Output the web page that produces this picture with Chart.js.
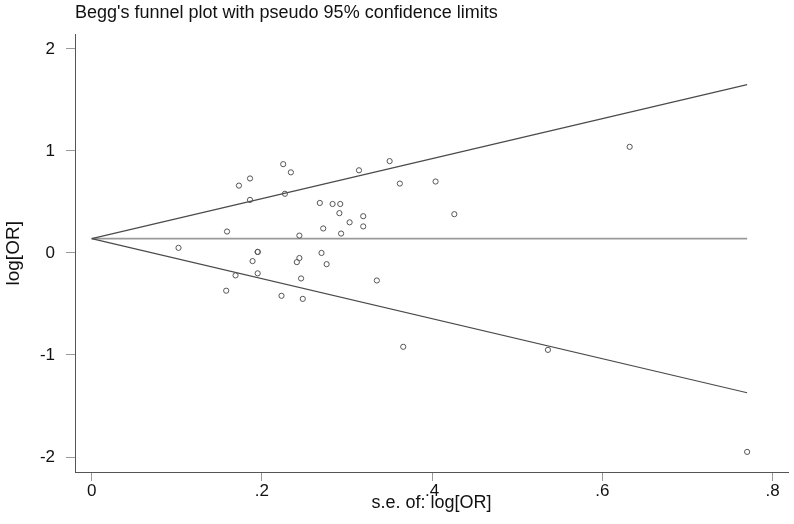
<!DOCTYPE html>
<html>
<head>
<meta charset="utf-8">
<script src="https://cdn.jsdelivr.net/npm/chart.js@4.4.1/dist/chart.umd.min.js"></script>
<style>
  html, body { margin: 0; padding: 0; background: #ffffff; }
  #wrap { width: 794px; height: 524px; position: relative; }
</style>
</head>
<body>
<div id="wrap"><canvas id="c" width="794" height="524"></canvas></div>
<script>
// Study points: standard error of log[OR] (x) and log[OR] (y)
const seValues = [
  0.102, 0.159, 0.158, 0.173, 0.169, 0.186, 0.186, 0.189, 0.195, 0.195,
  0.195, 0.225, 0.234, 0.227, 0.223, 0.244, 0.244, 0.241, 0.246, 0.248,
  0.268, 0.283, 0.292, 0.291, 0.319, 0.303, 0.319, 0.272, 0.293, 0.270,
  0.276, 0.335, 0.366, 0.314, 0.350, 0.362, 0.404, 0.426, 0.632, 0.536,
  0.770
];
const logOrValues = [
  0.05, 0.21, -0.37, 0.66, -0.22, 0.73, 0.52, -0.08, 0.01, 0.01,
  -0.20, 0.87, 0.79, 0.58, -0.42, 0.17, -0.05, -0.09, -0.25, -0.45,
  0.49, 0.48, 0.48, 0.39, 0.36, 0.30, 0.26, 0.24, 0.19, 0.00,
  -0.11, -0.27, -0.92, 0.81, 0.90, 0.68, 0.70, 0.38, 1.04, -0.95,
  -1.95
];

// Pseudo 95% confidence limits and pooled estimate (line end points)
const limitSE = [0, 0.77];
const upperLimit = [0.14, 1.65];
const lowerLimit = [0.14, -1.37];
const pooledLine = [0.14, 0.14];

// Axis ticks
const xTicks = [0, 0.2, 0.4, 0.6, 0.8];
const xTickLabels = ['0', '.2', '.4', '.6', '.8'];
const yTicks = [-2, -1, 0, 1, 2];
const yTickLabels = ['-2', '-1', '0', '1', '2'];

const titleText = "Begg's funnel plot with pseudo 95% confidence limits";
const xTitle = 's.e. of: log[OR]';
const yTitle = 'log[OR]';

const FONT = '"Liberation Sans", Arial, Helvetica, sans-serif';

const pts = seValues.map((s, i) => ({ x: s, y: logOrValues[i] }));
const mk = arr => limitSE.map((s, i) => ({ x: s, y: arr[i] }));

new Chart(document.getElementById('c'), {
  type: 'scatter',
  data: {
    datasets: [
      {
        label: 'pooled',
        data: mk(pooledLine),
        showLine: true,
        borderColor: '#9a9a9a',
        borderWidth: 1.8,
        pointRadius: 0,
        order: 3
      },
      {
        label: 'upper',
        data: mk(upperLimit),
        showLine: true,
        borderColor: '#4a4a4a',
        borderWidth: 1.1,
        pointRadius: 0,
        order: 2
      },
      {
        label: 'lower',
        data: mk(lowerLimit),
        showLine: true,
        borderColor: '#4a4a4a',
        borderWidth: 1.1,
        pointRadius: 0,
        order: 2
      },
      {
        label: 'studies',
        data: pts,
        showLine: false,
        pointRadius: 2.6,
        pointBorderWidth: 1,
        borderColor: '#555555',
        backgroundColor: 'rgba(255,255,255,0)',
        pointBackgroundColor: 'rgba(255,255,255,0)',
        pointBorderColor: '#555555',
        order: 1
      }
    ]
  },
  options: {
    responsive: false,
    animation: false,
    layout: { padding: { left: 0, right: 6, top: 0, bottom: 0 } },
    plugins: {
      legend: { display: false },
      tooltip: { enabled: false },
      title: {
        display: true,
        text: titleText,
        align: 'start',
        fullSize: false,
        color: '#111111',
        font: { family: FONT, size: 18, weight: 'normal', lineHeight: 1.2 },
        padding: { top: 2, bottom: 11 }
      }
    },
    scales: {
      x: {
        type: 'linear',
        min: -0.0196,
        max: 0.818,
        afterFit: s => { s.height = 52; },
        afterBuildTicks: s => { s.ticks = xTicks.map(v => ({ value: v })); },
        ticks: {
          color: '#111111',
          font: { family: FONT, size: 17 },
          padding: 0,
          maxRotation: 0,
          autoSkip: false,
          callback: (v) => { const i = xTicks.indexOf(v); return i >= 0 ? xTickLabels[i] : ''; }
        },
        grid: { drawOnChartArea: false, drawTicks: true, tickLength: 9, color: '#9a9a9a', tickWidth: 1 },
        border: { display: true, color: '#555555', width: 1 },
        title: {
          display: true,
          text: xTitle,
          color: '#111111',
          font: { family: FONT, size: 18, lineHeight: 1.2 },
          padding: { top: 0, bottom: 10 }
        }
      },
      y: {
        type: 'linear',
        min: -2.147,
        max: 2.14,
        afterFit: s => { s.width = 75; },
        afterBuildTicks: s => { s.ticks = yTicks.map(v => ({ value: v })); },
        ticks: {
          color: '#111111',
          font: { family: FONT, size: 17 },
          padding: 11,
          autoSkip: false,
          callback: (v) => { const i = yTicks.indexOf(v); return i >= 0 ? yTickLabels[i] : ''; }
        },
        grid: { drawOnChartArea: false, drawTicks: true, tickLength: 9, color: '#9a9a9a', tickWidth: 1 },
        border: { display: true, color: '#555555', width: 1 },
        title: {
          display: true,
          text: yTitle,
          color: '#111111',
          font: { family: FONT, size: 19, lineHeight: 1.2 },
          padding: { top: 2, bottom: 0 }
        }
      }
    }
  }
});
</script>
</body>
</html>
